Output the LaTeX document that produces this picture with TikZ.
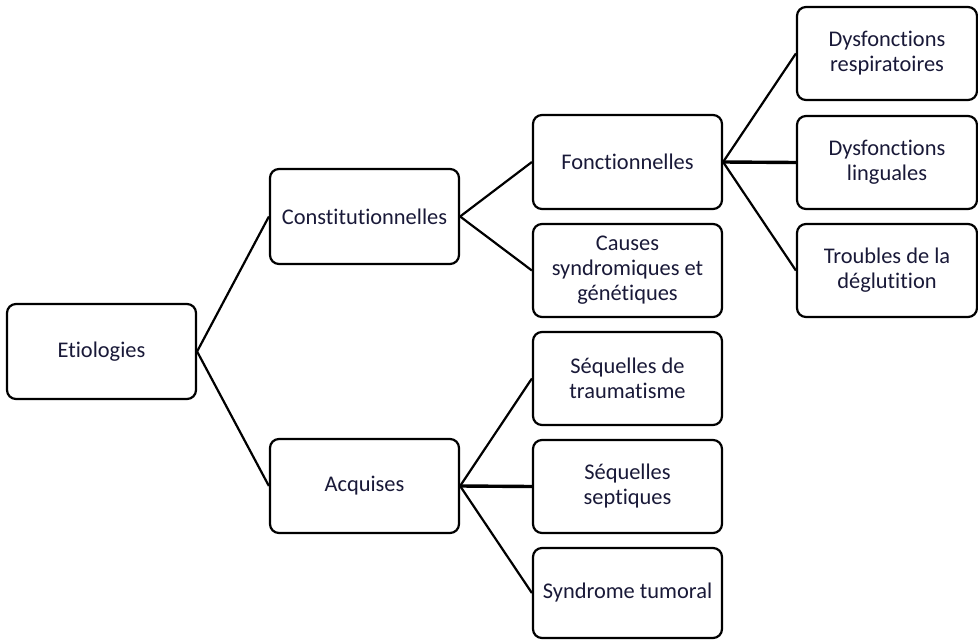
\documentclass[tikz,border=0pt]{standalone}
\usepackage{fontspec}
\setmainfont{Carlito}[Ligatures=NoCommon]
\definecolor{txtcol}{rgb}{0.10,0.10,0.22}
\tikzset{
  box/.style={draw=black, line width=2.2pt, rounded corners=9pt, fill=white,
    minimum width=189pt, minimum height=93pt, inner sep=2pt, align=center,
    text=txtcol, font=\fontsize{22.4}{25}\selectfont},
  rbox/.style={box, minimum width=180pt},
  link/.style={draw=black, line width=2.2pt},
  midlink/.style={draw=black, line width=3.4pt}
}
\begin{document}
\begin{tikzpicture}[x=1pt,y=-1pt]
\useasboundingbox (0,0) rectangle (978,640);
\node[box, minimum height=95pt] (E) at (101.5,351.5) {Etiologies};
\node[box, minimum height=95pt] (C) at (364.5,216.5) {Constitutionnelles};
\node[box, minimum height=94pt] (A) at (364.5,486) {Acquises};
\node[box, minimum height=94pt] (F) at (627.5,162) {Fonctionnelles};
\node[box] (CS) at (627.5,270.5) {Causes\\syndromiques et\\génétiques};
\node[box] (ST) at (627.5,378.5) {Séquelles de\\traumatisme};
\node[box] (SS) at (627.5,486.5) {Séquelles\\septiques};
\node[box, minimum height=90pt] (TU) at (627.5,593) {Syndrome tumoral};
\node[rbox] (DR) at (887,53.5) {Dysfonctions\\respiratoires};
\node[rbox] (DL) at (887,162.5) {Dysfonctions\\linguales};
\node[rbox] (TD) at (887,270.5) {Troubles de la\\déglutition};
\draw[link] (E.east) -- (C.west);
\draw[link] (E.east) -- (A.west);
\draw[link] (C.east) -- (F.west);
\draw[link] (C.east) -- (CS.west);
\draw[link] (A.east) -- (ST.west);
\draw[midlink] (A.east) -- (SS.west);
\draw[link] (A.east) -- (TU.west);
\draw[link] (F.east) -- (DR.west);
\draw[midlink] (F.east) -- (DL.west);
\draw[link] (F.east) -- (TD.west);
\end{tikzpicture}
\end{document}
